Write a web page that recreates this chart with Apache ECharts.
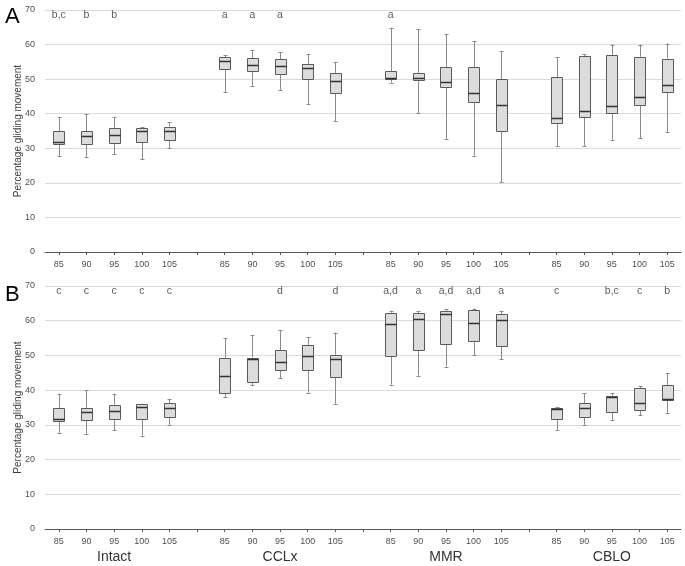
<!DOCTYPE html>
<html>
<head>
<meta charset="utf-8">
<script src="https://cdn.jsdelivr.net/npm/echarts@6/dist/echarts.min.js"></script>
<style>html,body{margin:0;padding:0;background:#fff}#c{width:685px;height:566px}</style>
</head>
<body>
<div id="c"></div>
<script>
// ---- data ----
const groups = ['Intact', 'CCLx', 'MMR', 'CBLO'];
const levels = ['85', '90', '95', '100', '105'];
// each box: [min, Q1, median, Q3, max]
const A_Intact = [[27.7,31.1,31.8,34.9,39.0],[27.5,31.3,33.6,34.9,39.9],[28.4,31.6,33.9,35.8,39.0],[26.9,31.7,35.1,35.9,36.1],[30.0,32.3,35.0,36.3,37.5]];
const A_CCLx   = [[46.2,53.0,55.2,56.3,56.9],[48.1,52.4,54.2,56.0,58.3],[46.9,51.5,53.9,55.7,57.9],[42.7,50.0,53.1,54.3,57.2],[37.9,45.9,49.5,51.8,55.0]];
const A_MMR    = [[49.0,50.0,50.2,52.3,64.9],[40.1,49.7,50.3,51.8,64.4],[32.7,47.6,49.3,53.4,63.0],[27.9,43.3,45.9,53.4,60.9],[20.2,34.9,42.4,50.0,58.1]];
const A_CBLO   = [[30.7,37.2,38.7,50.5,56.3],[30.7,39.0,40.7,56.7,57.2],[32.5,40.1,42.1,56.9,60.0],[32.9,42.4,44.7,56.5,60.0],[34.7,46.2,48.2,55.9,60.3]];
const B_Intact = [[27.7,31.1,31.8,34.9,39.0],[27.5,31.3,33.6,34.9,39.9],[28.4,31.6,33.9,35.8,39.0],[26.9,31.7,35.1,35.9,36.1],[30.0,32.3,35.0,36.3,37.5]];
const B_CCLx   = [[37.9,39.2,44.0,49.3,54.9],[41.4,42.3,48.9,49.4,55.8],[43.5,45.7,48.0,51.5,57.2],[39.3,45.7,49.7,52.9,55.2],[36.1,43.8,49.1,50.2,56.6]];
const B_MMR    = [[41.6,49.7,59.0,62.3,62.9],[44.2,51.5,60.4,62.1,62.7],[46.8,53.2,62.0,62.7,63.3],[50.1,54.3,59.3,63.0,63.5],[48.9,52.6,60.1,61.8,62.9]];
const B_CBLO   = [[28.6,31.8,34.5,35.0,35.1],[30.0,32.2,35.0,36.2,39.1],[31.3,33.7,37.9,38.4,39.2],[32.7,34.4,36.3,40.5,41.2],[33.3,37.1,37.5,41.4,44.9]];
const A_letters = [['b,c','b','b','',''],['a','a','a','',''],['a','','','',''],['','','','','']];
const B_letters = [['c','c','c','c','c'],['','','d','','d'],['a,d','a','a,d','a,d','a'],['c','','b,c','c','b']];
const yTicks = {min: 0, max: 70, interval: 10};
const yName = 'Percentage gliding movement';
const panelLabels = ['A', 'B'];

// ---- build categories (blank slot between groups) ----
const cats = [];
const groupCats = [];
groups.forEach((g, gi) => {
  levels.forEach((l, li) => { cats.push(l); groupCats.push(li === 2 ? g : ''); });
  if (gi < groups.length - 1) { cats.push(''); groupCats.push(''); }
});
const idx = (gi, li) => gi * 6 + li;
function boxData(arrs) {
  const out = [];
  arrs.forEach((arr, gi) => arr.forEach((b, li) => out.push([idx(gi, li)].concat(b))));
  return out;
}
function letterData(arrs, level) {
  const out = [];
  arrs.forEach((arr, gi) => arr.forEach((t, li) => { if (t) out.push({value: [idx(gi, li), level], name: t}); }));
  return out;
}
const LETTER_LEVEL = 68.4;

function renderBox(params, api) {
  const x = api.value(0);
  const band = api.size([1, 0])[0];
  const bw = Math.round(band * 0.4);
  const cap = 2;
  const p = (v) => api.coord([x, v]);
  const lo = p(api.value(1)), q1 = p(api.value(2)), md = p(api.value(3)), q3 = p(api.value(4)), hi = p(api.value(5));
  const cx = Math.round(lo[0]) + 0.5;
  const left = Math.round(lo[0] - bw / 2) + 0.5;
  const wStyle = {stroke: '#8a8a8a', lineWidth: 1};
  return {
    type: 'group',
    children: [
      {type: 'line', shape: {x1: cx, y1: hi[1], x2: cx, y2: q3[1]}, style: wStyle},
      {type: 'line', shape: {x1: cx, y1: q1[1], x2: cx, y2: lo[1]}, style: wStyle},
      {type: 'line', shape: {x1: cx - cap, y1: Math.round(hi[1]) + 0.5, x2: cx + cap, y2: Math.round(hi[1]) + 0.5}, style: wStyle},
      {type: 'line', shape: {x1: cx - cap, y1: Math.round(lo[1]) + 0.5, x2: cx + cap, y2: Math.round(lo[1]) + 0.5}, style: wStyle},
      {type: 'rect', shape: {x: left, y: Math.round(q3[1]) + 0.5, width: bw, height: Math.round(q1[1]) - Math.round(q3[1])},
        style: {fill: '#dcdcdc', stroke: '#5a5a5a', lineWidth: 1}},
      {type: 'line', shape: {x1: left, y1: Math.round(md[1]) + 0.5, x2: left + bw, y2: Math.round(md[1]) + 0.5},
        style: {stroke: '#333', lineWidth: 1.5}}
    ]
  };
}

const font = 'Liberation Sans, Arial, sans-serif';
const grids = [
  {left: 45, right: 4, top: 10, height: 242, outerBoundsMode: 'none', containLabel: false},
  {left: 45, right: 4, top: 286, height: 243, outerBoundsMode: 'none', containLabel: false}
];
function xAxisFor(gi) {
  return {
    type: 'category', gridIndex: gi, data: cats, boundaryGap: true,
    axisLine: {lineStyle: {color: '#595959', width: 1}},
    axisTick: {show: true, interval: 0, alignWithLabel: true, length: 3, lineStyle: {color: '#595959'}},
    axisLabel: {interval: 0, fontSize: 9, color: '#505050', margin: 8, fontFamily: font},
    splitLine: {show: false}
  };
}
function yAxisFor(gi) {
  return {
    type: 'value', gridIndex: gi, min: yTicks.min, max: yTicks.max, interval: yTicks.interval,
    name: yName, nameLocation: 'middle', nameRotate: 90, nameGap: 22, nameMoveOverlap: false,
    nameTextStyle: {fontSize: 10, color: '#404040', fontFamily: font},
    axisLine: {show: false}, axisTick: {show: false},
    axisLabel: {fontSize: 9, color: '#505050', margin: 10, fontFamily: font},
    splitLine: {lineStyle: {color: '#dadada', width: 1}}
  };
}
const xAxes = [xAxisFor(0), xAxisFor(1), {
  type: 'category', gridIndex: 1, data: groupCats, position: 'bottom',
  axisLine: {show: false}, axisTick: {show: false}, splitLine: {show: false},
  axisLabel: {interval: 0, fontSize: 14, color: '#333', margin: 21, fontFamily: font}
}];
function letterSeries(gi, arrs) {
  return {
    type: 'scatter', xAxisIndex: gi, yAxisIndex: gi, symbolSize: 0, silent: true,
    data: letterData(arrs, LETTER_LEVEL),
    label: {show: true, position: 'inside', formatter: (p) => p.name, fontSize: 10.5, color: '#333', fontFamily: font}
  };
}
function boxSeries(gi, arrs) {
  return {type: 'custom', xAxisIndex: gi, yAxisIndex: gi, renderItem: renderBox, data: boxData(arrs), silent: true,
    encode: {x: 0, y: [1, 2, 3, 4, 5]}};
}
const chart = echarts.init(document.getElementById('c'), null, {renderer: 'canvas'});
chart.setOption({
  animation: false,
  backgroundColor: '#fff',
  title: [
    {text: panelLabels[0], left: 0, top: 1, textStyle: {fontSize: 22, fontWeight: 'normal', color: '#000', fontFamily: font}},
    {text: panelLabels[1], left: 0, top: 279, textStyle: {fontSize: 22, fontWeight: 'normal', color: '#000', fontFamily: font}}
  ],
  grid: grids,
  xAxis: xAxes,
  yAxis: [yAxisFor(0), yAxisFor(1)],
  series: [
    boxSeries(0, [A_Intact, A_CCLx, A_MMR, A_CBLO]),
    boxSeries(1, [B_Intact, B_CCLx, B_MMR, B_CBLO]),
    letterSeries(0, A_letters),
    letterSeries(1, B_letters)
  ]
});
</script>
</body>
</html>
